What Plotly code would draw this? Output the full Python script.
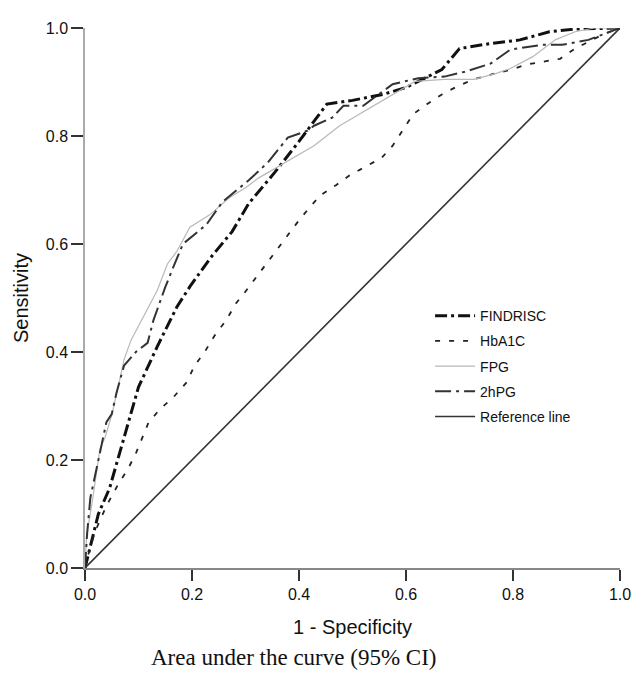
import plotly.graph_objects as go

# ---- data ----
findrisc_x = [0, 0.01, 0.025, 0.046, 0.08, 0.10, 0.135, 0.172, 0.196, 0.235, 0.275, 0.306, 0.355, 0.40,
              0.452, 0.50, 0.557, 0.60, 0.623, 0.667, 0.70, 0.75, 0.813, 0.868, 0.916, 1.0]
findrisc_y = [0, 0.04, 0.10, 0.148, 0.265, 0.335, 0.41, 0.484, 0.521, 0.575, 0.623, 0.675, 0.733, 0.79,
              0.859, 0.866, 0.877, 0.89, 0.901, 0.923, 0.962, 0.97, 0.978, 0.993, 0.998, 1.0]

hba1c_x = [0, 0.01, 0.02, 0.04, 0.062, 0.08, 0.095, 0.108, 0.119, 0.141, 0.165, 0.19, 0.205, 0.223, 0.242,
           0.264, 0.282, 0.297, 0.318, 0.339, 0.357, 0.377, 0.397, 0.419, 0.441, 0.469, 0.496, 0.526, 0.555,
           0.575, 0.593, 0.614, 0.639, 0.667, 0.696, 0.727, 0.76, 0.80, 0.824, 0.855, 0.888, 0.916, 0.947,
           0.97, 1.0]
hba1c_y = [0, 0.04, 0.07, 0.115, 0.155, 0.183, 0.212, 0.243, 0.27, 0.295, 0.316, 0.344, 0.375, 0.399, 0.43,
           0.459, 0.49, 0.508, 0.536, 0.563, 0.589, 0.614, 0.64, 0.667, 0.691, 0.709, 0.728, 0.744, 0.76,
           0.782, 0.81, 0.841, 0.859, 0.877, 0.892, 0.905, 0.914, 0.924, 0.932, 0.938, 0.943, 0.962, 0.978,
           0.989, 1.0]

fpg_x = [0, 0.003, 0.013, 0.022, 0.028, 0.037, 0.05, 0.064, 0.073, 0.086, 0.11, 0.135, 0.154, 0.172, 0.196,
         0.233, 0.269, 0.30, 0.324, 0.366, 0.428, 0.476, 0.549, 0.617, 0.672, 0.727, 0.769, 0.795, 0.837,
         0.879, 0.916, 0.952, 1.0]
fpg_y = [0, 0.06, 0.119, 0.179, 0.221, 0.24, 0.283, 0.344, 0.386, 0.422, 0.466, 0.514, 0.563, 0.587, 0.631,
         0.654, 0.685, 0.704, 0.722, 0.746, 0.782, 0.819, 0.861, 0.901, 0.905, 0.905, 0.916, 0.925, 0.947,
         0.978, 0.993, 1.0, 1.0]

hpg2_x = [0, 0.004, 0.01, 0.018, 0.031, 0.04, 0.05, 0.059, 0.073, 0.095, 0.117, 0.128, 0.15, 0.165, 0.183,
          0.227, 0.257, 0.306, 0.342, 0.379, 0.416, 0.428, 0.462, 0.483, 0.52, 0.575, 0.623, 0.672, 0.714,
          0.758, 0.795, 0.855, 0.892, 0.941, 0.971, 1.0]
hpg2_y = [0, 0.064, 0.13, 0.17, 0.228, 0.27, 0.285, 0.325, 0.375, 0.40, 0.417, 0.459, 0.52, 0.557, 0.60,
          0.636, 0.678, 0.718, 0.751, 0.797, 0.81, 0.819, 0.834, 0.856, 0.856, 0.896, 0.907, 0.91, 0.92,
          0.934, 0.96, 0.969, 0.969, 0.978, 0.989, 1.0]

ref_x = [0, 1]
ref_y = [0, 1]

tick_vals = [0, 0.2, 0.4, 0.6, 0.8, 1.0]
tick_text = ["0.0", "0.2", "0.4", "0.6", "0.8", "1.0"]

SANS = "Liberation Sans, Arial"

fig = go.Figure()
fig.add_trace(go.Scatter(x=findrisc_x, y=findrisc_y, mode="lines", name="FINDRISC", legendgroup="a",
                         line=dict(color="#111111", width=3, dash="12px,4px,3px,4px")))
fig.add_trace(go.Scatter(x=hba1c_x, y=hba1c_y, mode="lines", name="HbA1C", legendgroup="b",
                         line=dict(color="#222222", width=1.8, dash="5px,9px")))
fig.add_trace(go.Scatter(x=fpg_x, y=fpg_y, mode="lines", name="FPG", legendgroup="c",
                         line=dict(color="#b8b8b8", width=1.2)))
fig.add_trace(go.Scatter(x=hpg2_x, y=hpg2_y, mode="lines", name="2hPG", legendgroup="d",
                         line=dict(color="#333333", width=2, dash="16px,5px,3px,5px")))
fig.add_trace(go.Scatter(x=ref_x, y=ref_y, mode="lines", name="Reference line", legendgroup="e",
                         line=dict(color="#333333", width=1.6)))

axis_common = dict(range=[0, 1], tickvals=tick_vals, ticktext=tick_text, ticks="outside",
                   tickwidth=2, tickcolor="#333333", showgrid=False, zeroline=False, showline=True,
                   tickfont=dict(family=SANS, size=16, color="#111111"))

fig.update_xaxes(**axis_common, ticklen=11, linecolor="#888888", linewidth=1.5,
                 title=dict(text="1 - Specificity", font=dict(family=SANS, size=20, color="#111111"),
                            standoff=18))
fig.update_yaxes(**axis_common, ticklen=12, linecolor="#aaaaaa", linewidth=1.5,
                 title=dict(text="Sensitivity", font=dict(family=SANS, size=20, color="#111111"),
                            standoff=12))

fig.add_annotation(text="Area under the curve (95% CI)", xref="paper", yref="paper", x=0.39, y=-0.166,
                   xanchor="center", yanchor="middle", showarrow=False,
                   font=dict(family="Liberation Serif, Times New Roman", size=23, color="#111111"))

# the page body adds an 8px margin, so the figure is sized to the visible area
fig.update_layout(
    width=635, height=670,
    margin=dict(l=75, r=14, t=13, b=110),
    plot_bgcolor="white", paper_bgcolor="white",
    showlegend=True,
    legend=dict(x=0.645, y=0.496, xanchor="left", yanchor="top", bgcolor="rgba(0,0,0,0)",
                font=dict(family=SANS, size=14, color="#111111"),
                tracegroupgap=4, itemwidth=40),
)

fig.write_html("out.html")
